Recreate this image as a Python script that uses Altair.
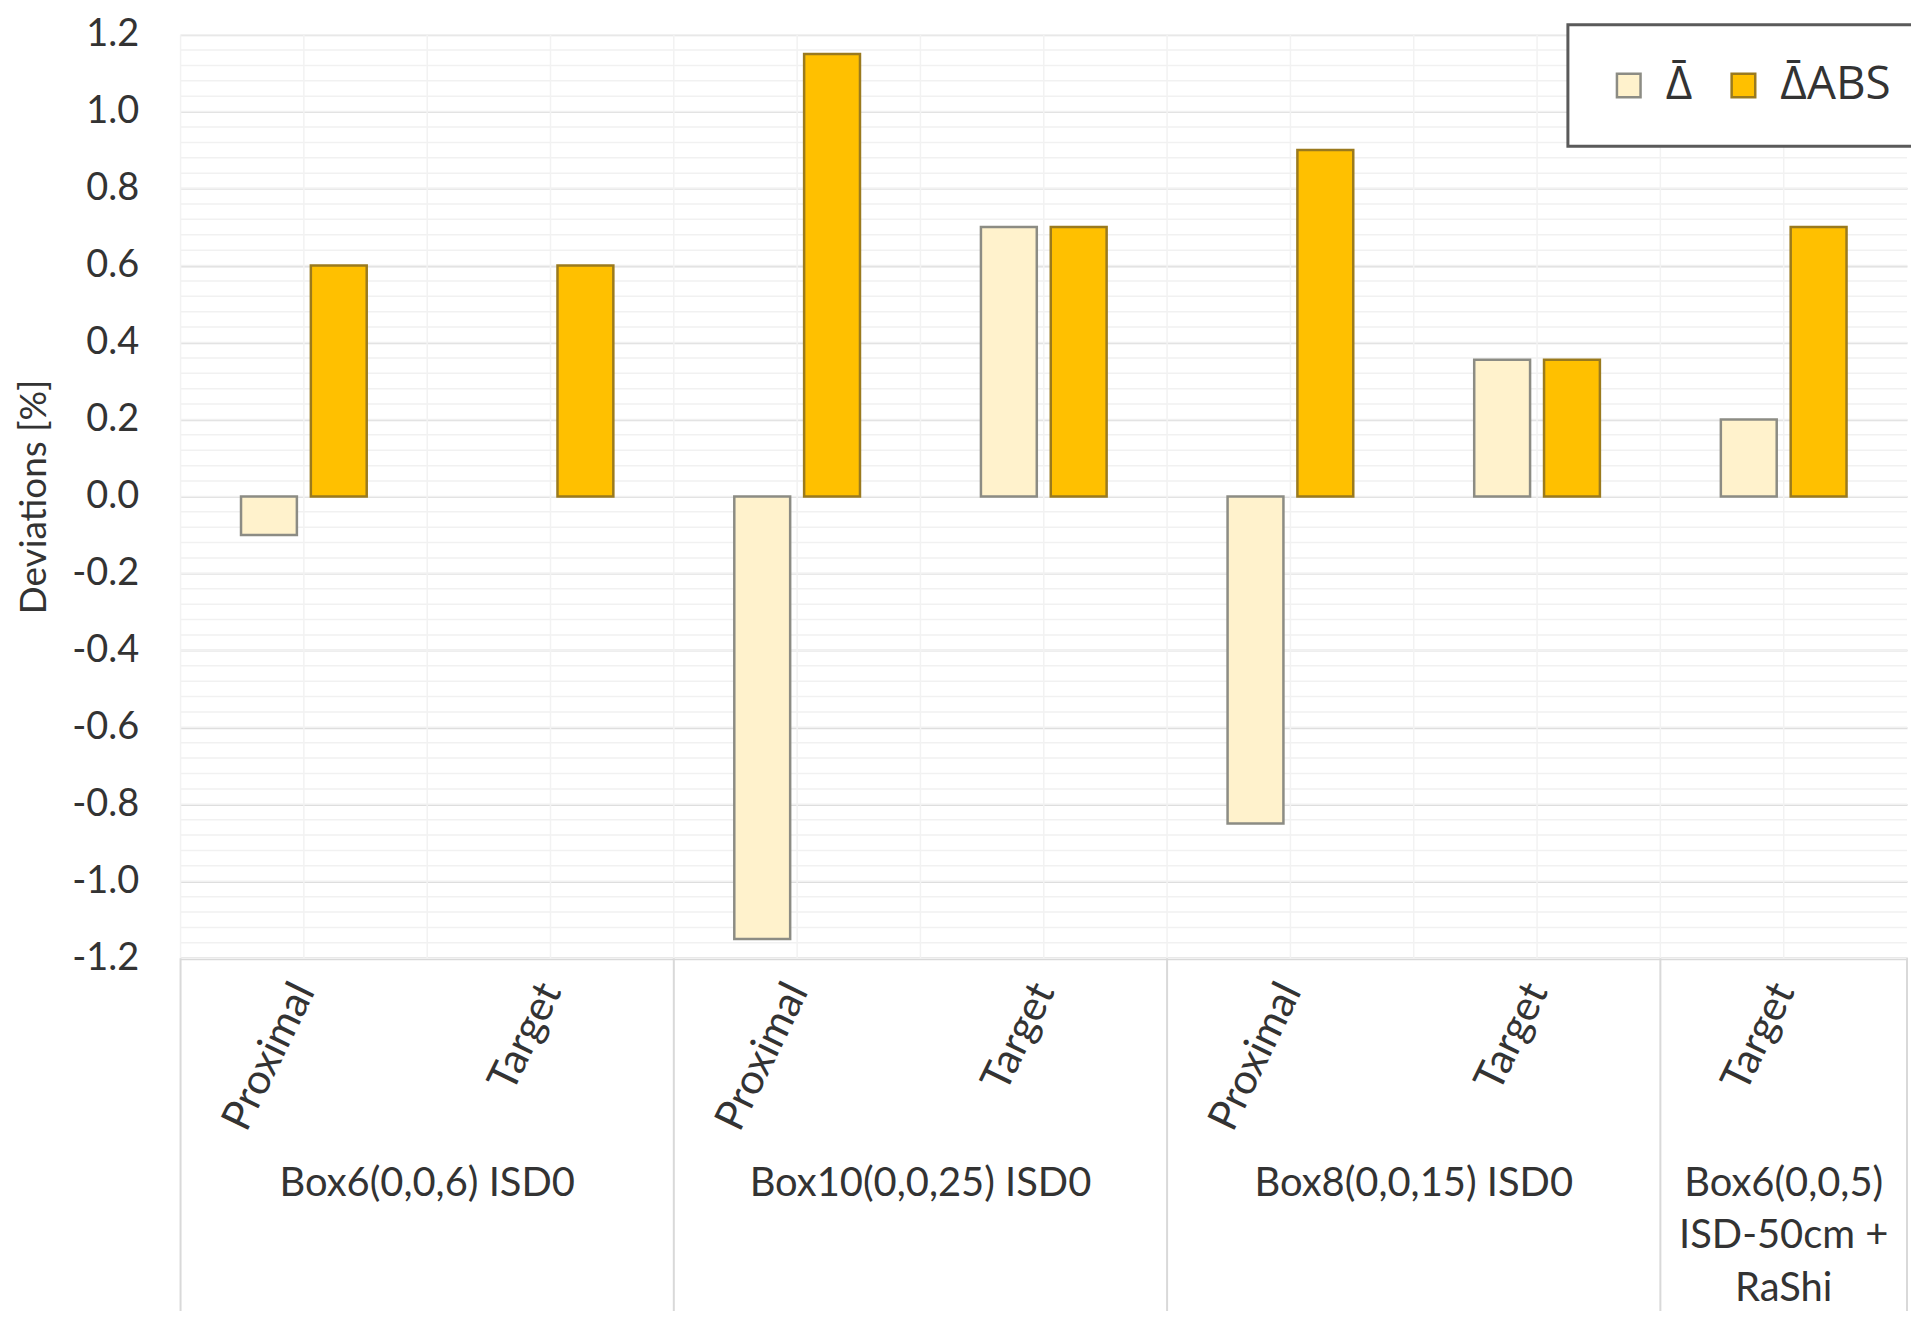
import altair as alt
import pandas as pd

# ---- data ----
group_names = ["Box6(0,0,6) ISD0", "Box10(0,0,25) ISD0", "Box8(0,0,15) ISD0",
               "Box6(0,0,5)\nISD-50cm +\nRaShi"]
group_of_cat = [0, 0, 1, 1, 2, 2, 3]
positions = ["Proximal", "Target", "Proximal", "Target", "Proximal", "Target", "Target"]
delta = [-0.10, None, -1.15, 0.70, -0.85, 0.355, 0.20]
delta_abs = [0.60, 0.60, 1.15, 0.70, 0.90, 0.355, 0.70]
series_names = ["Δ\u0304", "Δ\u0304ABS"]
y_ticks = [-1.2, -1.0, -0.8, -0.6, -0.4, -0.2, 0.0, 0.2, 0.4, 0.6, 0.8, 1.0, 1.2]

fill_colors = ["#FFF2CC", "#FFC000"]
stroke_colors = ["#8C8C84", "#9A7A1E"]
TEXT = "#333333"
FONT = "Lato"

W, H = 1731, 926

cat_ids = [f"{i}|{p}" for i, p in enumerate(positions)]

rows = []
for i, cid in enumerate(cat_ids):
    for s, vals in zip(series_names, [delta, delta_abs]):
        if vals[i] is not None:
            rows.append({"cat": cid, "series": s, "value": vals[i]})
bars_df = pd.DataFrame(rows)

cats_df = pd.DataFrame({"cat": cat_ids})

first_idx = [group_of_cat.index(g) for g in range(len(group_names))]
span = [group_of_cat.count(g) for g in range(len(group_names))]
groups_df = pd.DataFrame({
    "cat": [cat_ids[i] for i in first_idx],
    "name": group_names,
    "span": span,
})
last_df = pd.DataFrame({"cat": [cat_ids[-1]]})

# minor horizontal grid positions (style only)
minor_df = pd.DataFrame({"v": [round(-1.2 + 0.04 * k, 2) for k in range(61)]})

x_scale = alt.Scale(domain=cat_ids, paddingInner=0, paddingOuter=0)
y_scale = alt.Scale(domain=[-1.2, 1.2], nice=False)

x_axis = alt.Axis(
    title=None,
    labelExpr="split(datum.value, '|')[1]",
    labelAngle=296, labelAlign="right", labelBaseline="middle",
    labelPadding=27, ticks=False, grid=False,
    domainColor="#d9d9d9", domainWidth=3,
    labelFont=FONT, labelFontSize=42, labelColor=TEXT,
)
y_axis = alt.Axis(
    values=y_ticks,
    labelExpr="(datum.value < -0.001 ? '-' : '') + format(abs(datum.value), '.1f')",
    ticks=False, domain=False, grid=True, gridColor="#dedede", gridWidth=2,
    labelPadding=42, labelFont=FONT, labelFontSize=38, labelColor=TEXT,
    title="Deviations [%]", titleFont=FONT, titleFontSize=37,
    titleFontWeight="normal", titleColor=TEXT, titlePadding=18,
)

legend = alt.Legend(
    title=None, orient="none", legendX=1391, legendY=-10,
    direction="horizontal", padding=38,
    strokeColor="#5a5a5a", fillColor="white",
    symbolType="square", symbolSize=560, symbolStrokeWidth=2.5,
    labelFont="Open Sans", labelFontSize=46, labelColor=TEXT,
    labelOffset=14, columnPadding=28, labelLimit=0,
)

minor = alt.Chart(minor_df).mark_rule(color="#f1f1f1", strokeWidth=1.5).encode(
    y=alt.Y("v:Q", scale=y_scale, axis=y_axis),
    x=alt.value(0), x2=alt.value(W),
)

vgrid_a = alt.Chart(cats_df).mark_rule(color="#f2f2f2", strokeWidth=1.5).encode(
    x=alt.X("cat:N", scale=x_scale, axis=x_axis, bandPosition=0),
    y=alt.value(0), y2=alt.value(H),
)
vgrid_b = alt.Chart(cats_df).mark_rule(color="#f2f2f2", strokeWidth=1.5).encode(
    x=alt.X("cat:N", scale=x_scale, axis=x_axis, bandPosition=0.5),
    y=alt.value(0), y2=alt.value(H),
)

bars = alt.Chart(bars_df).mark_bar(strokeWidth=2.5).encode(
    x=alt.X("cat:N", scale=x_scale, axis=x_axis),
    xOffset=alt.XOffset("series:N", scale=alt.Scale(domain=series_names,
                                                    paddingInner=0.2, paddingOuter=0.866)),
    y=alt.Y("value:Q", scale=y_scale, axis=y_axis),
    color=alt.Color("series:N", scale=alt.Scale(domain=series_names, range=fill_colors),
                    legend=legend),
    stroke=alt.Stroke("series:N", scale=alt.Scale(domain=series_names, range=stroke_colors),
                      legend=legend),
)

sep_start = alt.Chart(groups_df).mark_rule(color="#d9d9d9", strokeWidth=2).encode(
    x=alt.X("cat:N", scale=x_scale, axis=x_axis, bandPosition=0),
    y=alt.value(H), y2=alt.value(H + 360),
)
sep_end = alt.Chart(last_df).mark_rule(color="#d9d9d9", strokeWidth=2).encode(
    x=alt.X("cat:N", scale=x_scale, axis=x_axis, bandPosition=1),
    y=alt.value(H), y2=alt.value(H + 360),
)

label_kw = dict(lineBreak="\n", align="center", baseline="alphabetic",
                font=FONT, fontSize=40, color=TEXT, lineHeight=53)
glabel2 = alt.Chart(groups_df).transform_filter("datum.span == 2").mark_text(**label_kw).encode(
    x=alt.X("cat:N", scale=x_scale, axis=x_axis, bandPosition=1),
    y=alt.value(H + 238),
    text="name:N",
)
glabel1 = alt.Chart(groups_df).transform_filter("datum.span == 1").mark_text(**label_kw).encode(
    x=alt.X("cat:N", scale=x_scale, axis=x_axis, bandPosition=0.5),
    y=alt.value(H + 238),
    text="name:N",
)

chart = alt.layer(minor, vgrid_a, vgrid_b, bars, sep_start, sep_end, glabel2, glabel1).properties(
    width=W, height=H,
    autosize=alt.AutoSizeParams(type="none"),
    padding={"left": 173, "top": 25, "right": 4, "bottom": 352},
    background="white",
).configure_view(stroke=None).configure_legend(strokeWidth=3)

chart.save("out.html", embed_options={"renderer": "svg", "actions": False})
